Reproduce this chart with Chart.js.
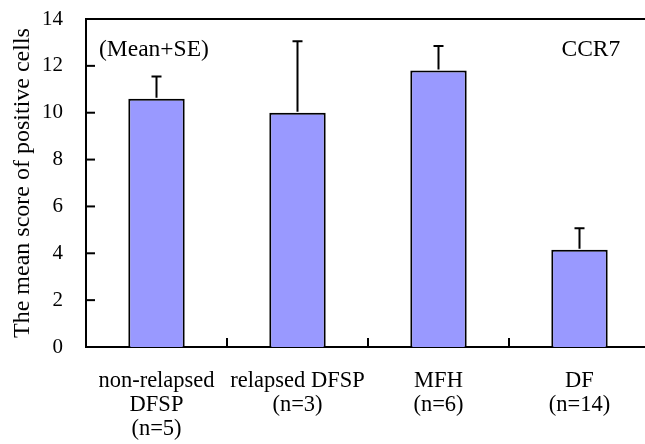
<!DOCTYPE html>
<html>
<head>
<meta charset="utf-8">
<script src="https://cdn.jsdelivr.net/npm/chart.js@4"></script>
<style>
  html, body { margin: 0; padding: 0; background: #fff; overflow: hidden; }
  #wrap { width: 650px; height: 444px; }
</style>
</head>
<body>
<div id="wrap"><canvas id="ccr7Chart"></canvas></div>
<script>
// CCR7 mean score of positive cells (Mean+SE)
const groups = [
    ['non-relapsed', 'DFSP', '(n=5)'],
    ['relapsed DFSP', '(n=3)'],
    ['MFH', '(n=6)'],
    ['DF', '(n=14)']
];
const means = [10.6, 10.0, 11.8, 4.15];
const upperSE = [11.55, 13.05, 12.85, 5.07];
const yTicks = [0, 2, 4, 6, 8, 10, 12, 14];

const serif = "'Liberation Serif', 'Times New Roman', serif";

// error bars, inner ticks, top frame line and the two notes
const extras = {
    id: 'extras',
    afterDatasetsDraw(chart) {
        const ctx = chart.ctx;
        const area = chart.chartArea;
        const x = chart.scales.x;
        const y = chart.scales.y;
        ctx.save();
        ctx.strokeStyle = '#000';
        ctx.lineWidth = 2;

        // top line
        ctx.beginPath();
        ctx.moveTo(area.left - 1, area.top);
        ctx.lineTo(area.right, area.top);
        ctx.stroke();

        // y ticks pointing in
        yTicks.forEach(v => {
            const py = y.getPixelForValue(v);
            ctx.beginPath();
            ctx.moveTo(area.left, py);
            ctx.lineTo(area.left + 9, py);
            ctx.stroke();
        });

        // x separators pointing up
        for (let i = 1; i < groups.length; i++) {
            const px = (x.getPixelForValue(i - 1) + x.getPixelForValue(i)) / 2;
            ctx.beginPath();
            ctx.moveTo(px, area.bottom);
            ctx.lineTo(px, area.bottom - 9);
            ctx.stroke();
        }

        // error bars
        const meta = chart.getDatasetMeta(0);
        meta.data.forEach((bar, i) => {
            const top = y.getPixelForValue(upperSE[i]);
            ctx.beginPath();
            ctx.moveTo(bar.x, bar.y - 1);
            ctx.lineTo(bar.x, top);
            ctx.moveTo(bar.x - 5, top);
            ctx.lineTo(bar.x + 5, top);
            ctx.stroke();
        });

        ctx.fillStyle = '#000';
        ctx.font = '23.5px ' + serif;
        ctx.textBaseline = 'middle';
        ctx.textAlign = 'left';
        ctx.fillText('(Mean+SE)', area.left + 13, y.getPixelForValue(12.7));
        ctx.fillText('CCR7', x.getPixelForValue(3) - 18, y.getPixelForValue(12.7));
        ctx.restore();
    }
};

const ctx = document.getElementById('ccr7Chart').getContext('2d');
const ccr7Chart = new Chart(ctx, {
    type: 'bar',
    data: {
        labels: groups,
        datasets: [{
            data: means,
            backgroundColor: '#9999ff',
            borderColor: '#000',
            borderWidth: 2,
            barPercentage: 0.4,
            categoryPercentage: 1
        }]
    },
    options: {
        responsive: true,
        maintainAspectRatio: false,
        animation: false,
        layout: { padding: { top: 19, left: 0, right: 0, bottom: 0 } },
        plugins: {
            legend: { display: false },
            tooltip: { enabled: false }
        },
        scales: {
            x: {
                grid: { display: false, drawTicks: false },
                border: { display: true, color: '#000', width: 2 },
                ticks: {
                    color: '#000',
                    font: { family: serif, size: 22.5, lineHeight: 1.07 },
                    padding: 22,
                    maxRotation: 0,
                    autoSkip: false
                },
                afterFit(scale) {
                    scale.height = 97;
                    scale.paddingLeft = 0;
                    scale.paddingRight = 0;
                }
            },
            y: {
                min: 0,
                max: 14,
                grid: { display: false, drawTicks: false },
                border: { display: true, color: '#000', width: 2 },
                ticks: {
                    stepSize: 2,
                    color: '#000',
                    font: { family: serif, size: 21 },
                    padding: 23
                },
                title: {
                    display: true,
                    text: 'The mean score of positive cells',
                    color: '#000',
                    font: { family: serif, size: 24 },
                    padding: { top: 8, bottom: 0 }
                },
                afterFit(scale) {
                    scale.width = 86;
                    scale.paddingTop = 0;
                    scale.paddingBottom = 0;
                }
            }
        }
    },
    plugins: [extras]
});
</script>
</body>
</html>
